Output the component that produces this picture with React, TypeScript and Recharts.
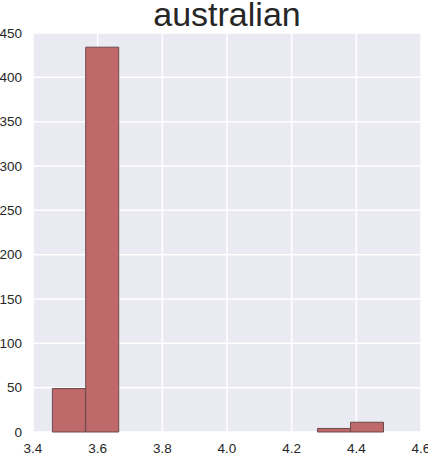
import React from 'react';
import { BarChart, Bar, XAxis, YAxis, CartesianGrid } from 'recharts';

// histogram bins (centers) and counts
const binCenters = [3.511, 3.614, 3.716, 3.818, 3.921, 4.023, 4.126, 4.228, 4.331, 4.433];
const counts = [49, 434, 0, 0, 0, 0, 0, 0, 4, 11];
const xTicks = [3.4, 3.6, 3.8, 4.0, 4.2, 4.4, 4.6];
const yTicks = [0, 50, 100, 150, 200, 250, 300, 350, 400, 450];

const data = binCenters.map((x, i) => ({ x, count: counts[i] }));

const FONT = '"Liberation Sans", Arial, sans-serif';
const TEXT = '#262626';

const App: React.FC = () => {
  return (
    <div style={{ position: 'absolute', left: 0, top: 0, width: 428, height: 454, background: '#fff' }}>
      <style>{'body{margin:0}'}</style>
      <div
        style={{
          position: 'absolute',
          left: 33,
          width: 388,
          top: -5,
          textAlign: 'center',
          fontFamily: FONT,
          fontSize: 34,
          color: TEXT,
          lineHeight: '38px',
        }}
      >
        australian
      </div>
      <BarChart
        width={428}
        height={454}
        data={data}
        margin={{ top: 33, right: 7, bottom: 0, left: 0 }}
        barCategoryGap={0}
        barGap={0}
      >
        <CartesianGrid fill="#EAEAF2" stroke="#ffffff" strokeWidth={1.5} />
        <XAxis
          dataKey="x"
          type="number"
          domain={[3.4, 4.6]}
          ticks={xTicks}
          tickFormatter={(v: number) => v.toFixed(1)}
          axisLine={false}
          tickLine={false}
          tickSize={0}
          tickMargin={11}
          height={22}
          interval={0}
          tick={{ fill: TEXT, fontSize: 13.5, fontFamily: FONT }}
        />
        <YAxis
          type="number"
          domain={[0, 450]}
          ticks={yTicks}
          axisLine={false}
          tickLine={false}
          tickSize={0}
          tickMargin={11}
          width={33}
          interval={0}
          tick={{ fill: TEXT, fontSize: 13.5, fontFamily: FONT }}
        />
        <Bar
          dataKey="count"
          fill="#bf696b"
          stroke="#6b4a4b"
          strokeWidth={1}
          isAnimationActive={false}
        />
      </BarChart>
    </div>
  );
};

export default App;
